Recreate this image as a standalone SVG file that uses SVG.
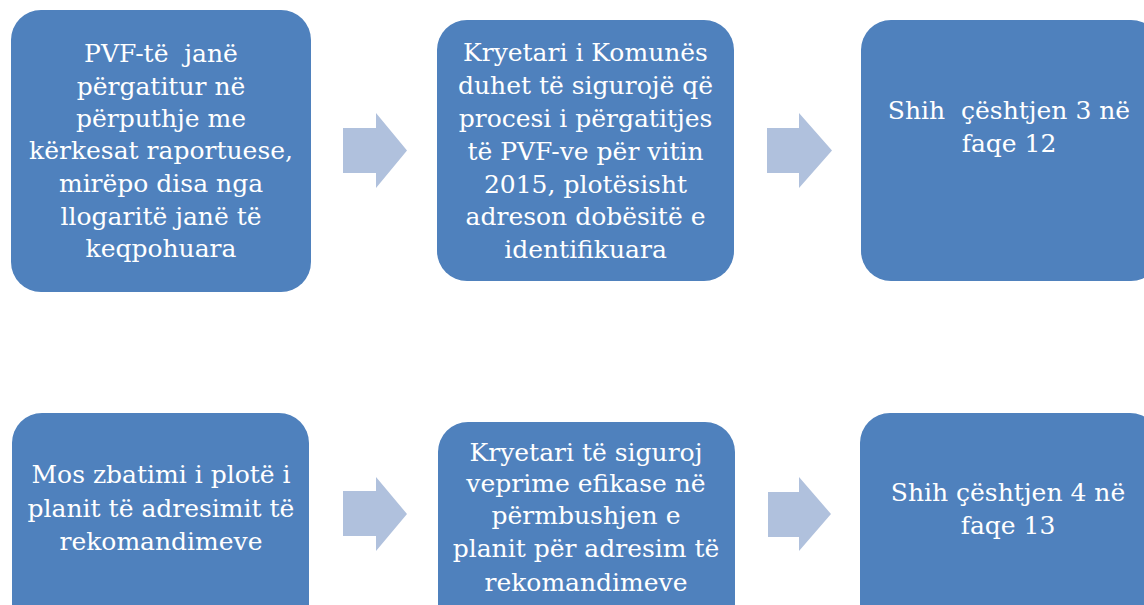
<svg xmlns="http://www.w3.org/2000/svg" width="1144" height="605" viewBox="0 0 1144 605">
<style>
.box{fill:#4F81BD;}
.arr{fill:#B0C1DD;}
.t{fill:#FFFFFF;text-anchor:middle;}
.pre{white-space:pre;}
</style>
<rect width="1144" height="605" fill="#FFFFFF"/>
<g id="connectors">
<polygon class="arr" points="343,128 376,128 376,113 407,150.5 376,188 376,173 343,173"/>
<polygon class="arr" points="767,128 799,128 799,113 832,150.5 799,188 799,173 767,173"/>
<polygon class="arr" points="343,491 376,491 376,477 407,514 376,551 376,536 343,536"/>
<polygon class="arr" points="768,492 799,492 799,477 831,514 799,551 799,537 768,537"/>
</g>
<g font-family="'DejaVu Serif', 'Liberation Serif', serif" font-size="25" class="t">
<g id="node1">
<rect class="box" x="11" y="10" width="300" height="282" rx="30"/>
<text class="pre" x="161" y="62" xml:space="preserve">PVF-të  janë</text>
<text x="161" y="94.5">përgatitur në</text>
<text x="161" y="127">përputhje me</text>
<text x="161" y="159">kërkesat raportuese,</text>
<text x="161" y="192">mirëpo disa nga</text>
<text x="161" y="224.5">llogaritë janë të</text>
<text x="161" y="257">keqpohuara</text>
</g>
<g id="node2">
<rect class="box" x="437" y="20" width="297" height="261" rx="30"/>
<text x="585.5" y="61">Kryetari i Komunës</text>
<text x="585.5" y="94">duhet të sigurojë që</text>
<text x="585.5" y="127">procesi i përgatitjes</text>
<text x="585.5" y="159.5">të PVF-ve për vitin</text>
<text x="585.5" y="192.5">2015, plotësisht</text>
<text x="585.5" y="225">adreson dobësitë e</text>
<text x="585.5" y="258">identifikuara</text>
</g>
<g id="node3">
<rect class="box" x="861" y="20" width="300" height="261" rx="30"/>
<text class="pre" x="1009" y="119" xml:space="preserve">Shih  çështjen 3 në</text>
<text x="1009" y="152">faqe 12</text>
</g>
<g id="node4">
<rect class="box" x="12" y="413" width="297" height="230" rx="30"/>
<text x="161" y="483">Mos zbatimi i plotë i</text>
<text x="161" y="517">planit të adresimit të</text>
<text x="161" y="550">rekomandimeve</text>
</g>
<g id="node5">
<rect class="box" x="438" y="422" width="297" height="230" rx="30"/>
<text x="586" y="461">Kryetari të siguroj</text>
<text x="586" y="492">veprime efikase në</text>
<text x="586" y="524">përmbushjen e</text>
<text x="586" y="557">planit për adresim të</text>
<text x="586" y="591">rekomandimeve</text>
</g>
<g id="node6">
<rect class="box" x="860" y="413" width="300" height="230" rx="30"/>
<text x="1008" y="501">Shih çështjen 4 në</text>
<text x="1008" y="534">faqe 13</text>
</g>
</g>
</svg>
